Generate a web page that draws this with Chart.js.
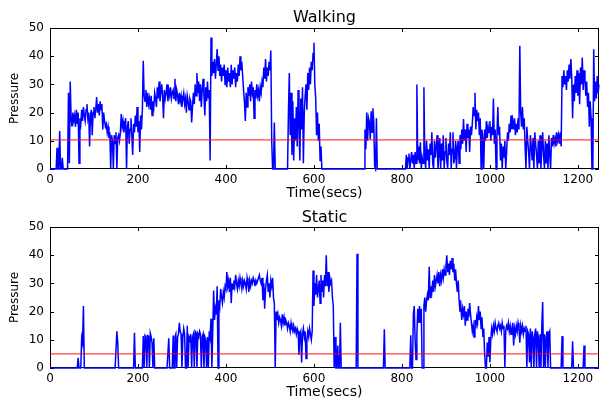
<!DOCTYPE html>
<html>
<head>
<meta charset="utf-8">
<script src="https://cdn.jsdelivr.net/npm/chart.js@4.4.0/dist/chart.umd.min.js"></script>
<style>
  html, body { margin: 0; padding: 0; background: #fff; }
  .box { position: absolute; left: 0; width: 600px; }
</style>
</head>
<body>
<div class="box" style="top:0;height:200px"><canvas id="walkChart" width="600" height="200"></canvas></div>
<div class="box" style="top:200px;height:203px"><canvas id="staticChart" width="600" height="203"></canvas></div>
<script>
// samples every 2 s (one row = 40 s)
const sampleStep = 2;
const xMax = 1248;
const xTicks = [0, 200, 400, 600, 800, 1000, 1200];
const yTicks = [0, 10, 20, 30, 40, 50];

const walkThreshold = 10.3;
const staticThreshold = 5;

const walkPressure = [
  0, 0, 0, 0, 0, 0, 0, 0, 7.5, 0, 0, 13.5, 0, 0, 4, 0, 0, 0, 0, 0,
  0, 27, 2, 31, 18, 15, 20, 17, 19, 15, 21, 16, 20, 2, 18, 16, 21, 17, 22, 19,
  17, 21, 23, 18, 20, 8, 19, 21, 12, 20, 22, 18, 21, 25.5, 20, 23, 19, 24, 21, 23,
  14, 20, 17, 15, 16, 13, 15, 11, 13, 0, 12, 10, 0, 12, 9, 13, 0, 11, 12, 10,
  13, 19.5, 15, 17, 13, 16, 18, 0, 15, 17, 9, 14, 18, 12, 5, 16, 13, 19, 15, 22,
  13, 17, 6, 19, 14, 21, 38.4, 26, 24, 28, 22, 27, 23, 25, 21, 26, 19, 24, 22, 27,
  25, 22, 29, 25, 31, 24, 27, 30, 26, 18, 28, 25, 27, 30, 24, 28, 26, 29, 25, 27,
  28, 25, 32, 24, 28, 26, 23, 27, 24, 26, 22, 25, 27, 23, 25, 20, 26, 24, 21, 25,
  24, 16.5, 22, 27, 23, 30, 26, 34, 27, 31, 24, 30, 22, 28, 32, 26, 19, 29, 24, 31,
  25, 28, 3, 46.6, 33, 38, 34, 39, 32, 37, 42.5, 35, 40, 33, 37, 31, 36, 33, 37, 30,
  35, 29, 36, 31, 34, 29, 37, 30, 35, 32, 36, 29, 34, 31, 37, 33, 40, 35, 38, 33,
  28, 24, 17, 27, 22, 29, 26, 30, 24, 31, 27, 29, 18, 28, 25, 30, 26, 28, 24, 29,
  27, 31, 29, 36, 32, 39, 31, 36, 33, 38, 35, 42, 10, 0, 0, 16.5, 0, 0, 0, 0,
  0, 0, 0, 0, 0, 0, 0, 0, 0, 0, 0, 20, 34, 12, 27, 5, 24, 3, 18, 10,
  22, 8, 28, 15, 3, 25, 14, 29, 2, 20, 26, 30, 21, 34, 28, 36, 30, 38, 35, 41,
  44.8, 30, 25, 12, 20, 10, 16, 3, 8, 0, 0, 0, 0, 0, 0, 0, 0, 0, 0, 0,
  0, 0, 0, 0, 0, 0, 0, 0, 0, 0, 0, 0, 0, 0, 0, 0, 0, 0, 0, 0,
  0, 0, 0, 0, 0, 0, 0, 0, 0, 0, 0, 0, 0, 0, 0, 0, 0, 0, 14, 7,
  20, 10, 18, 16.5, 10.6, 20.5, 13, 21.5, 17, 1, 0, 18, 0, 0, 0, 0, 0, 0, 0, 0,
  0, 0, 0, 0, 0, 0, 0, 0, 0, 0, 0, 0, 0, 0, 0, 0, 0, 0, 0, 0,
  0, 0, 0, 0, 0, 5, 0, 4, 5.5, 0, 3, 6, 2, 5, 0, 6, 2, 30, 3, 8,
  2, 9.5, 0, 4, 2, 29, 4, 0, 10, 3, 7, 0, 9, 5, 13, 2, 0, 10, 4, 8,
  12, 0, 5, 11, 0, 9, 3, 12, 0, 6, 11, 3, 0, 9, 5, 13, 0, 7, 13, 2,
  4, 10, 0, 8, 10, 2, 12, 7, 14, 9, 17.7, 10, 14, 6, 16, 11, 14, 6, 15, 12,
  16, 22, 19, 27, 14, 21, 17, 20, 12, 18, 0, 14, 11, 0, 14, 10, 17, 11, 15, 13,
  17, 10, 15, 12, 25, 9, 14, 0, 12, 22, 12, 15, 3, 9, 0, 8, 4, 10, 0, 6,
  13, 10, 16, 13, 19, 14, 17, 14, 18, 12, 16, 13, 18, 14, 43.7, 20, 15, 22, 14, 18,
  8, 0, 15, 10, 6, 0, 12, 8, 3, 11, 0, 13, 9, 5, 0, 10, 2, 12, 0, 7,
  13, 5, 0, 10, 2, 9, 0, 12, 5, 0, 11, 8, 12, 9, 11, 8, 13, 10, 12, 9,
  13, 8, 33, 29, 35, 30, 33, 28, 35, 31, 37, 32, 39, 33, 18, 30, 24, 33, 27, 35,
  26, 34, 23, 36, 30, 39.5, 28, 35, 32, 26, 31, 22, 27, 15, 24, 18, 0, 0, 42.5, 24,
  31, 25, 33, 27, 30
];

const staticPressure = [
  0, 0, 0, 0, 0, 0, 0, 0, 0, 0, 0, 0, 0, 0, 0, 0, 0, 0, 0, 0,
  0, 0, 0, 0, 0, 0, 0, 0, 0, 0, 0, 0, 3.6, 0, 0, 0, 10.7, 9, 22, 0,
  0, 0, 0, 0, 0, 0, 0, 0, 0, 0, 0, 0, 0, 0, 0, 0, 0, 0, 0, 0,
  0, 0, 0, 0, 0, 0, 0, 0, 0, 0, 0, 0, 0, 0, 0, 0, 13, 9, 0, 0,
  0, 0, 0, 0, 0, 0, 0, 0, 0, 0, 0, 0, 0, 0, 0, 0, 12.5, 0, 0, 0,
  0, 0, 0, 0, 0, 0, 11.3, 0, 11.5, 11, 0, 11.5, 11.3, 0, 12.3, 11, 9, 0, 10.5, 0,
  0, 0, 0, 0, 0, 0, 0, 0, 0, 0, 0, 0, 0, 0, 0, 10.5, 0, 0, 0, 0,
  11.5, 0, 11, 12, 0, 11, 12, 16, 13, 12, 0, 11, 14, 12, 0, 0, 15, 0, 11, 10,
  12, 0, 11, 12, 0, 13, 12.5, 0, 12, 11, 13, 12, 0, 11, 12, 0, 11, 10, 0, 11,
  0, 13, 11, 17.5, 0, 13, 27.5, 17, 21, 19, 29, 0, 24, 22, 28, 25, 23, 27, 25, 29,
  28, 34, 29, 31, 27, 32, 23, 30, 28, 31, 29, 33, 30, 28, 31, 29, 32, 30, 28, 31,
  29, 31, 30, 28, 32, 30, 27, 31, 29, 31, 30, 32, 31, 29, 31, 30, 31, 32, 33, 31,
  30, 32, 24, 30, 21, 28, 31, 33, 27, 30, 25, 31, 29, 32, 25, 23, 0, 20, 17, 19,
  16, 18, 17, 15, 19, 16, 18, 15, 17, 16, 14, 16, 15, 13, 16, 14, 13, 15, 13, 14,
  12, 14, 13, 4.6, 12, 13, 2, 12, 14, 11, 13, 3.4, 10, 13, 11, 14, 12, 10, 13, 34.6,
  22, 30, 26, 33, 25, 28, 31, 23, 33, 27, 31, 25, 33, 29, 40, 29, 34, 27, 32, 30,
  31, 25, 22, 0, 11, 0, 0, 8, 0, 0, 16, 0, 0, 0, 0, 0, 0, 0, 0, 0,
  0, 0, 0, 0, 0, 0, 0, 0, 0, 40.5, 0, 0, 0, 0, 0, 0, 0, 0, 0, 0,
  0, 0, 0, 0, 0, 0, 0, 0, 0, 0, 0, 0, 0, 0, 0, 0, 0, 0, 0, 0,
  13.7, 0, 0, 0, 0, 0, 0, 0, 0, 0, 0, 0, 0, 0, 0, 0, 0, 0, 0, 0,
  0, 0, 0, 0, 0, 0, 0, 0, 0, 0, 11.6, 0, 0, 19, 22, 10, 3, 12, 21, 16,
  22, 16, 21, 0, 0, 22, 25, 20, 24, 26, 24, 35.9, 25, 29, 27, 31, 27, 33, 29, 31,
  33, 30, 34, 29, 33, 31, 35, 32, 35, 33, 36, 40, 34, 37, 33, 38, 35, 39, 34, 37,
  31, 35, 30, 27, 31, 24, 20, 22, 17, 21, 19, 22, 15, 20, 17, 21, 18, 23, 19, 16,
  13, 15, 11, 17, 14, 18, 16, 22, 17, 20, 14, 18, 11, 14, 5, 0, 0, 9, 4, 11,
  2, 10, 14, 12, 15, 13, 16, 14, 13, 15, 16, 14, 15, 13, 16, 14, 15, 0, 13, 15,
  14, 16, 13, 15, 12, 14, 16, 8, 14, 12, 15, 13, 16, 14, 9, 15, 13, 15, 12, 14,
  13, 15, 0, 13, 12, 2, 14, 0, 13, 11, 0, 12, 14, 0, 13, 11, 0, 12, 0, 15,
  23.4, 0, 12, 0, 11, 13, 0, 12, 13, 0, 0, 0, 0, 0, 0, 0, 0, 0, 0, 0,
  0, 0, 11.3, 0, 0, 0, 0, 0, 0, 0, 0, 0, 0, 0, 9.5, 0, 0, 0, 0, 0,
  0, 0, 0, 0, 0, 0, 0, 8, 0, 0, 0, 0, 0, 0, 0, 0, 0, 0, 0, 0,
  0, 0, 0, 0, 0
];

Chart.defaults.font.family = '"DejaVu Sans", sans-serif';
Chart.defaults.color = '#000';

// matplotlib style box: spines on 4 sides, ticks pointing inward, title above
const framePlugin = {
  id: 'frame',
  beforeDatasetsDraw(chart, args, opts) {
    const { ctx, chartArea: a, scales } = chart;
    ctx.save();
    ctx.strokeStyle = '#000';
    ctx.lineWidth = 1;
    ctx.strokeRect(a.left + 0.5, a.top + 0.5, a.right - a.left - 1, a.bottom - a.top - 1);
    ctx.beginPath();
    xTicks.forEach(v => {
      const px = Math.round(scales.x.getPixelForValue(v)) + 0.5;
      ctx.moveTo(px, a.bottom); ctx.lineTo(px, a.bottom - 4);
      ctx.moveTo(px, a.top); ctx.lineTo(px, a.top + 4);
    });
    yTicks.forEach(v => {
      const py = Math.round(scales.y.getPixelForValue(v)) + 0.5;
      ctx.moveTo(a.left, py); ctx.lineTo(a.left + 4, py);
      ctx.moveTo(a.right, py); ctx.lineTo(a.right - 4, py);
    });
    ctx.stroke();
    ctx.font = '16px "DejaVu Sans"';
    ctx.textAlign = 'center';
    ctx.textBaseline = 'alphabetic';
    ctx.fillStyle = '#000';
    ctx.fillText(opts.text, (a.left + a.right) / 2, opts.baseline);
    ctx.restore();
  }
};

function makeChart(id, values, threshold, title, titleBaseline, topPad, xHeight, xTitlePad) {
  const points = values.map((v, i) => ({ x: i * sampleStep, y: v }));
  return new Chart(document.getElementById(id), {
    type: 'line',
    data: {
      datasets: [
        {
          data: [{ x: 0, y: threshold }, { x: xMax, y: threshold }],
          borderColor: 'rgba(255,0,0,0.75)',
          borderWidth: 1.3,
          pointRadius: 0,
          order: 0
        },
        {
          data: points,
          borderColor: '#0000ff',
          borderWidth: 1.5,
          pointRadius: 0,
          tension: 0,
          clip: 3,
          order: 1
        }
      ]
    },
    options: {
      responsive: false,
      animation: false,
      layout: { padding: { top: topPad, right: 1, left: 0, bottom: 0 } },
      plugins: {
        legend: { display: false },
        tooltip: { enabled: false },
        frame: { text: title, baseline: titleBaseline }
      },
      scales: {
        x: {
          type: 'linear',
          min: 0,
          max: xMax,
          grid: { display: false, drawTicks: false },
          border: { display: false },
          ticks: { stepSize: 200, includeBounds: false, autoSkip: false, maxRotation: 0, padding: 4, font: { size: 12 }, callback: v => String(v) },
          title: { display: true, text: 'Time(secs)', font: { size: 14, lineHeight: 1 }, padding: { top: 0, bottom: xTitlePad } },
          afterFit(s) { s.height = xHeight; }
        },
        y: {
          min: 0,
          max: 50,
          grid: { display: false, drawTicks: false },
          border: { display: false },
          ticks: { stepSize: 10, padding: 6, font: { size: 12 }, callback: v => String(v) },
          title: { display: true, text: 'Pressure', font: { size: 12, lineHeight: 1.2 }, padding: { top: 8, bottom: 0 } },
          afterFit(s) { s.width = 50; }
        }
      }
    },
    plugins: [framePlugin]
  });
}

makeChart('walkChart', walkPressure, walkThreshold, 'Walking', 22, 28, 31, 0);
makeChart('staticChart', staticPressure, staticThreshold, 'Static', 21.7, 27, 35, 4);
</script>
</body>
</html>
